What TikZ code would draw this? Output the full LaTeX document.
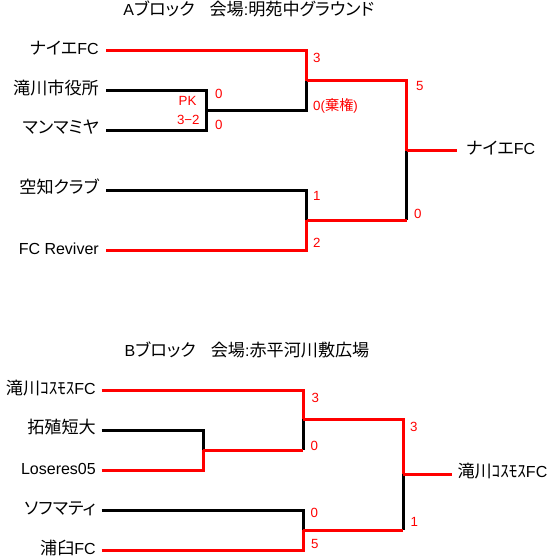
\documentclass[tikz,border=0pt]{standalone}
\usepackage{fontspec}
\setmainfont{Liberation Sans}
\newfontfamily\jpf{Noto Sans CJK JP}[RawFeature=+palt,Scale=1.07]
\begin{document}
\begin{tikzpicture}[x=1pt,y=-1pt,
 lbl/.style={inner sep=0pt,text height=0.716em,text depth=0pt},
 team/.style={lbl,font=\fontsize{16}{18}\selectfont},
 ttl/.style={lbl,font=\fontsize{16}{18}\selectfont},
 score/.style={lbl,text=red,font=\fontsize{13.3}{15}\selectfont,anchor=west},
 won/.style={draw=red,line width=3pt},
 lost/.style={draw=black,line width=3pt}]
\useasboundingbox (0,0) rectangle (560,560);

% ---------- Block A ----------
\node[ttl] (ta) at (248.8,12) {A{\jpf ブロック}\hspace{15pt}{\jpf 会場}:{\jpf 明苑中グラウンド}};
\node[team,anchor=east] (a1) at (99,50.7) {{\jpf ナイエ}FC};
\node[team,anchor=east] (a2) at (99,90.7) {\jpf 滝川市役所};
\node[team,anchor=east] (a3) at (99,130) {\jpf マンマミヤ};
\node[team,anchor=east] (a4) at (99,190) {\jpf 空知クラブ};
\node[team,anchor=east] (a5) at (99,250.7) {FC Reviver};
\node[team,anchor=west] (aw) at (466,150.7) {{\jpf ナイエ}FC};
\coordinate (ja1) at (206.7,110);
\coordinate (ja2) at (306.7,80.5);
\coordinate (ja3) at (306.7,220);
\coordinate (ja4) at (406.7,150.7);

\draw[lost] ([xshift=7pt]a2.east) -| (ja1);
\draw[lost] ([xshift=7pt]a3.east) -| (ja1);
\draw[lost] (ja1) -| (ja2);
\draw[lost] ([xshift=7pt]a4.east) -| (ja3);
\draw[lost] (ja3 -| ja4) -- (ja4);
\draw[won] ([xshift=7pt]a1.east) -| (ja2);
\draw[won] (ja2) -| (ja4);
\draw[won] ([xshift=7pt]a5.east) -| (ja3);
\draw[won] (ja3) -- (ja3 -| ja4);
\draw[won] (ja4) -- ([xshift=-9.3pt]aw.west);

\node[score] (sa1) at (313,59) {3};
\node[score] (sa2) at (215,95) {0};
\node[score] (sa3) at (215,126) {0};
\node[score,anchor=center] (pk) at (187.5,101.7) {PK};
\node[score,anchor=center] (pks) at (188.3,120.7) {3−2};
\node[score] (sa4) at (313,106.5) {0({\jpf 棄権})};
\node[score] (sa5) at (416,87) {5};
\node[score] (sa6) at (313,197) {1};
\node[score] (sa7) at (313,244) {2};
\node[score] (sa8) at (414,215) {0};

% ---------- Block B ----------
\node[ttl] (tb) at (247,353.3) {B{\jpf ブロック}\hspace{15pt}{\jpf 会場}:{\jpf 赤平河川敷広場}};
\node[team,anchor=east] (b1) at (96,390.7) {{\jpf 滝川ｺｽﾓｽ}FC};
\node[team,anchor=east] (b2) at (96,430) {\jpf 拓殖短大};
\node[team,anchor=east] (b3) at (96,470.7) {Loseres05};
\node[team,anchor=east] (b4) at (96,510.7) {\jpf ソフマティ};
\node[team,anchor=east] (b5) at (96,550.7) {{\jpf 浦臼}FC};
\node[team,anchor=west] (bw) at (457.3,474.3) {{\jpf 滝川ｺｽﾓｽ}FC};
\coordinate (jb1) at (203,450);
\coordinate (jb2) at (303,419.3);
\coordinate (jb3) at (303,530);
\coordinate (jb4) at (403,474.3);

\draw[lost] ([xshift=5.5pt]b2.east) -| (jb1);
\draw[lost] (jb1 -| jb2) -- (jb2);
\draw[lost] ([xshift=5.5pt]b4.east) -| (jb3);
\draw[lost] (jb3 -| jb4) -- (jb4);
\draw[won] ([xshift=5.5pt]b1.east) -| (jb2);
\draw[won] (jb2) -| (jb4);
\draw[won] ([xshift=5.5pt]b3.east) -| (jb1);
\draw[won] (jb1) -- (jb1 -| jb2);
\draw[won] ([xshift=5.5pt]b5.east) -| (jb3);
\draw[won] (jb3) -- (jb3 -| jb4);
\draw[won] (jb4) -- ([xshift=-5.6pt]bw.west);

\node[score] (sb1) at (311.5,399.3) {3};
\node[score] (sb2) at (410,427.7) {3};
\node[score] (sb3) at (310.5,446.5) {0};
\node[score] (sb4) at (310.5,514) {0};
\node[score] (sb5) at (410.5,522.7) {1};
\node[score] (sb6) at (311,545) {5};
\end{tikzpicture}
\end{document}
